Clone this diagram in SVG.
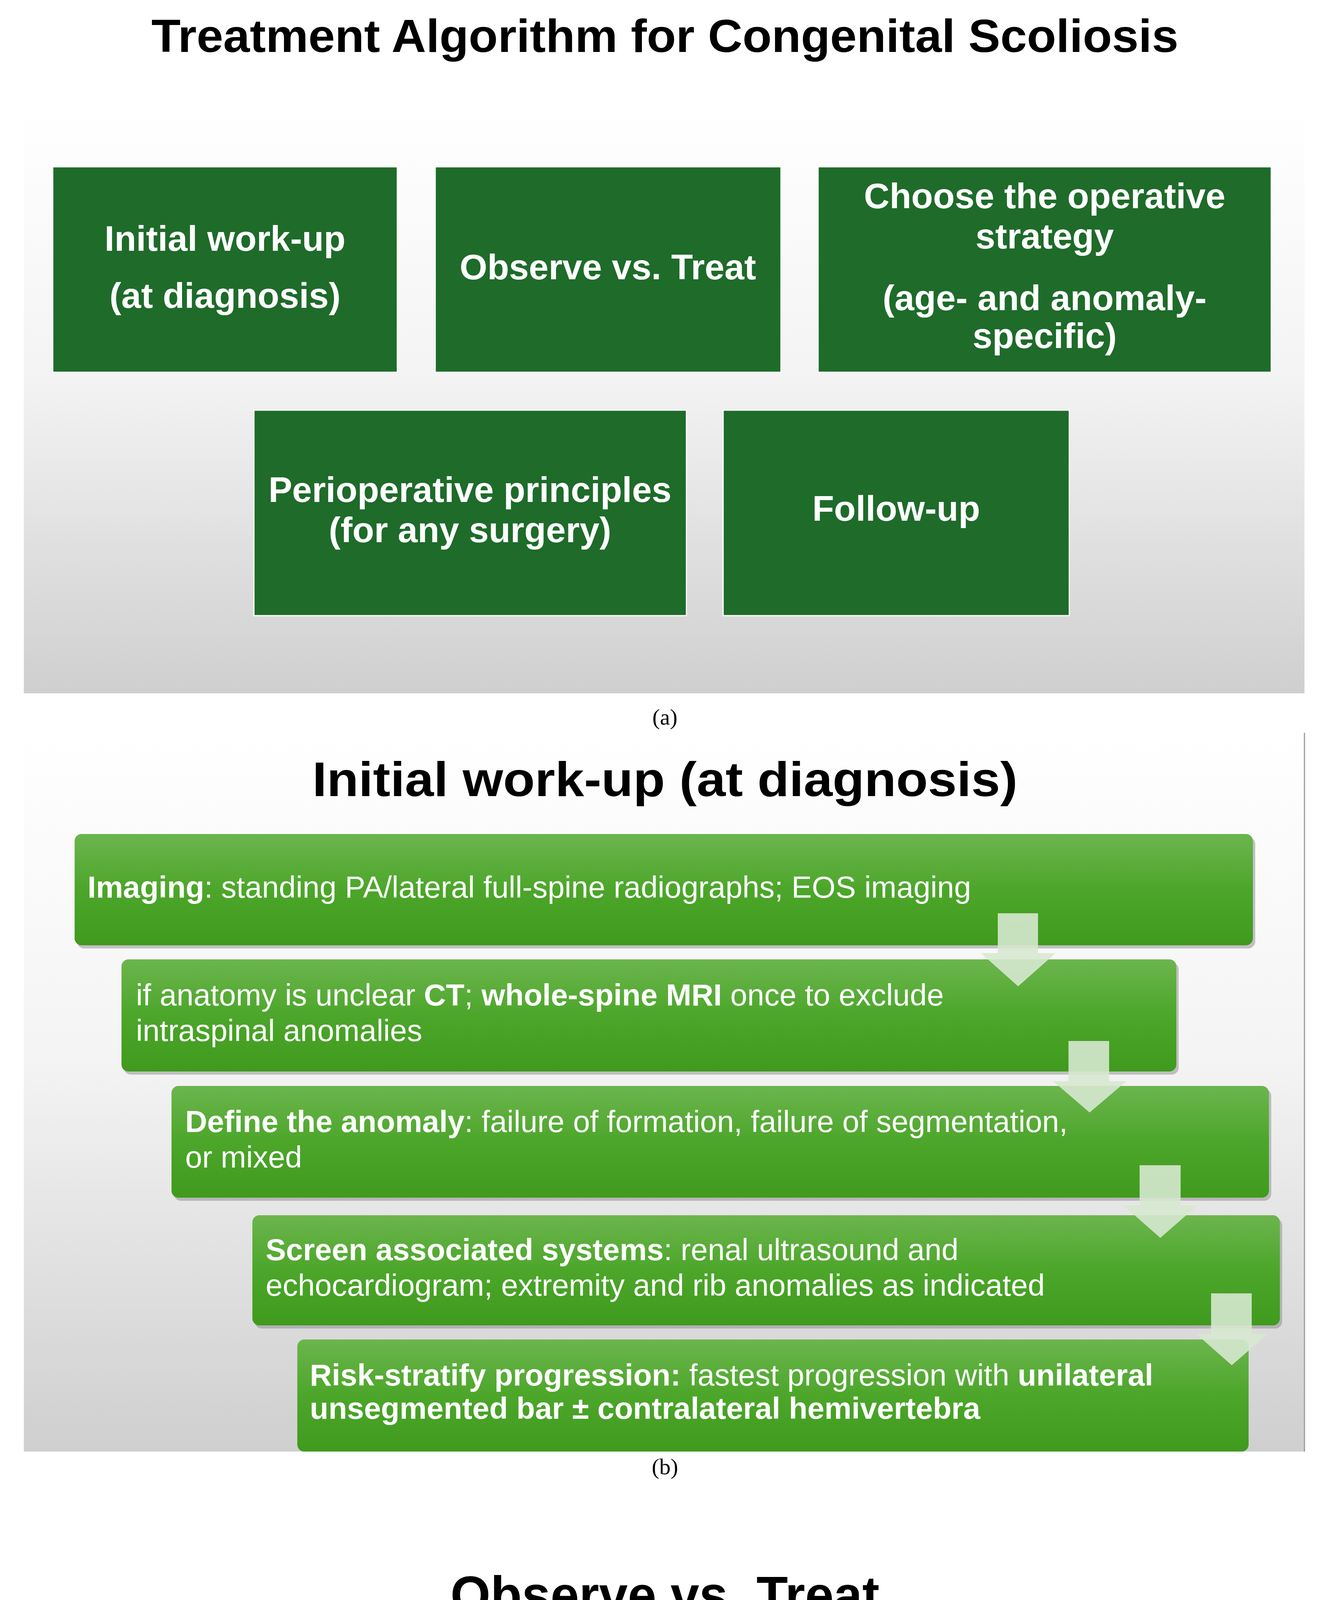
<svg xmlns="http://www.w3.org/2000/svg" width="3389" height="5792" viewBox="0 0 3389 5792">
<defs>
<linearGradient id="pg" x1="0" y1="0" x2="0" y2="1"><stop offset="0" stop-color="#ffffff"/><stop offset="0.45" stop-color="#f4f4f4"/><stop offset="1" stop-color="#cfcfcf"/></linearGradient>
<linearGradient id="bg" x1="0" y1="0" x2="0" y2="1"><stop offset="0" stop-color="#6cb54e"/><stop offset="0.5" stop-color="#4ca62a"/><stop offset="1" stop-color="#3f9a1e"/></linearGradient>
<marker id="ah" viewBox="0 0 12 12" refX="11" refY="6" markerWidth="14" markerHeight="14" markerUnits="userSpaceOnUse" orient="auto"><path d="M1,1 L11,6 L1,11" fill="none" stroke="#3f7d45" stroke-width="1.5"/></marker>
<style>
.box{fill:#1e6b2a;stroke:#ffffff;stroke-width:3}
.ta{font-family:"Liberation Sans",Arial,sans-serif;font-weight:bold;font-size:91px;fill:#fff;text-anchor:middle}
.title{font-family:"Liberation Sans",Arial,sans-serif;font-weight:bold;fill:#000;text-anchor:middle}
.bar{fill:url(#bg)}
.shd{fill:#8a8a8a;opacity:0.5}
.tb{font-family:"Liberation Sans",Arial,sans-serif;font-size:78px;fill:#fff}
.tb .b{font-weight:bold}
.arr{fill:#d6e8cf;opacity:0.9}
.tc{font-family:"Liberation Sans",Arial,sans-serif;font-size:59px;fill:#fff;text-anchor:middle}
.con{fill:none;stroke:#3f7d45;stroke-width:3}
.cap{font-family:"Liberation Serif","Times New Roman",serif;font-size:58px;fill:#000;text-anchor:middle}
</style>
</defs>
<rect width="3389" height="5792" fill="#fff"/>
<!-- Section a -->
<text class="title" x="1702" y="133" font-size="118" textLength="2629" lengthAdjust="spacingAndGlyphs">Treatment Algorithm for  Congenital Scoliosis</text>
<rect x="61" y="275" width="3278" height="1500" fill="url(#pg)"/>
<g id="a1"><rect class="box" x="135" y="427" width="882" height="526"/><text class="ta" x="576" y="642">Initial work-up</text><text class="ta" x="576" y="788">(at diagnosis)</text></g>
<g id="a2"><rect class="box" x="1114" y="427" width="885" height="526"/><text class="ta" x="1556" y="715">Observe vs. Treat</text></g>
<g id="a3"><rect class="box" x="2094" y="427" width="1160" height="526"/><text class="ta" x="2674" y="533">Choose the operative</text><text class="ta" x="2674" y="636">strategy</text><text class="ta" x="2674" y="794">(age- and anomaly-</text><text class="ta" x="2674" y="891">specific)</text></g>
<g id="a4"><rect class="box" x="650" y="1050" width="1107" height="526"/><text class="ta" x="1203" y="1285">Perioperative principles</text><text class="ta" x="1203" y="1388">(for any surgery)</text></g>
<g id="a5"><rect class="box" x="1851" y="1050" width="886" height="526"/><text class="ta" x="2294" y="1333">Follow-up</text></g>
<text class="cap" x="1702" y="1855">(a)</text>
<!-- Section b -->
<rect x="61" y="1876" width="3278" height="1840" fill="url(#pg)"/>
<line x1="3339" y1="1876" x2="3339" y2="3716" stroke="#999" stroke-width="3"/>
<text class="title" x="1702" y="2038" font-size="125" textLength="1805" lengthAdjust="spacingAndGlyphs">Initial work-up (at diagnosis)</text>
<g id="b1"><rect class="shd" x="197" y="2143" width="3016" height="285" rx="18"/><rect class="bar" x="191" y="2135" width="3016" height="285" rx="18"/><text class="tb" x="224" y="2298"><tspan class="b">Imaging</tspan>: standing PA/lateral full-spine radiographs; EOS imaging</text></g>
<g id="b2"><rect class="shd" x="317" y="2464" width="2700" height="287" rx="18"/><rect class="bar" x="311" y="2456" width="2700" height="287" rx="18"/><text class="tb" x="348" y="2574">if anatomy is unclear <tspan class="b">CT</tspan>; <tspan class="b">whole-spine MRI</tspan> once to exclude</text><text class="tb" x="348" y="2665">intraspinal anomalies</text></g>
<g id="b3"><rect class="shd" x="445" y="2788" width="2809" height="286" rx="18"/><rect class="bar" x="439" y="2780" width="2809" height="286" rx="18"/><text class="tb" x="474" y="2898"><tspan class="b">Define the anomaly</tspan>: failure of formation, failure of segmentation,</text><text class="tb" x="474" y="2989">or mixed</text></g>
<g id="b4"><rect class="shd" x="652" y="3119" width="2630" height="282" rx="18"/><rect class="bar" x="646" y="3111" width="2630" height="282" rx="18"/><text class="tb" x="680" y="3226"><tspan class="b">Screen associated systems</tspan>: renal ultrasound and</text><text class="tb" x="680" y="3317">echocardiogram; extremity and rib anomalies as indicated</text></g>
<g id="b5"><rect class="bar" x="761" y="3429" width="2435" height="287" rx="18"/><text class="tb" x="793" y="3547"><tspan class="b">Risk-stratify progression:</tspan> fastest progression with <tspan class="b">unilateral</tspan></text><text class="tb" x="793" y="3632"><tspan class="b">unsegmented bar ± contralateral hemivertebra</tspan></text></g>
<g id="b-arrows">
<polygon class="arr" points="2554,2338 2657,2338 2657,2440 2702,2440 2606,2525 2511,2440 2554,2440"/>
<polygon class="arr" points="2735,2665 2839,2665 2839,2768 2883,2768 2789,2848 2696,2768 2735,2768"/>
<polygon class="arr" points="2917,2983 3022,2983 3022,3086 3065,3086 2970,3169 2876,3086 2917,3086"/>
<polygon class="arr" points="3100,3311 3204,3311 3204,3414 3246,3414 3153,3495 3061,3414 3100,3414"/>
</g>
<text class="cap" x="1702" y="3774">(b)</text>
<!-- Section c -->
<text class="title" x="1702" y="4130" font-size="135" textLength="1098" lengthAdjust="spacingAndGlyphs">Observe vs. Treat</text>
<rect x="61" y="4161" width="3278" height="1509" fill="url(#pg)"/>
<g id="c1"><rect class="box" x="115" y="4436" width="676" height="403"/><text class="tc" x="452" y="4585">Observe (clinical +</text><text class="tc" x="452" y="4654">radiographic follow-up</text><text class="tc" x="452" y="4722">every 6 months)</text></g>
<g id="c2"><rect class="box" x="957" y="4436" width="678" height="403"/><text class="tc" x="1296" y="4518">Mild curves (&lt;25–30°),</text><text class="tc" x="1296" y="4585">non-progressive</text><text class="tc" x="1296" y="4654">pattern, balanced</text><text class="tc" x="1296" y="4722">trunk, no thoracic</text><text class="tc" x="1296" y="4791">insufficiency risk</text></g>
<g id="c3"><rect class="box" x="1798" y="4376" width="674" height="524"/><text class="tc" x="2135" y="4482">Bracing/casting has</text><text class="tc" x="2135" y="4548">limited effect on the</text><text class="tc" x="2135" y="4618">congenital structural</text><text class="tc" x="2135" y="4688">curve; may help</text><text class="tc" x="2135" y="4757">compensatory/flexible</text><text class="tc" x="2135" y="4824">secondary curves.</text></g>
<g id="c4"><rect class="box" x="2637" y="4436" width="676" height="403"/><text class="tc" x="2975" y="4619">Initiate treatment if any</text><text class="tc" x="2975" y="4688">of the following</text></g>
<g id="c5"><rect class="box" x="115" y="5061" width="676" height="406"/><text class="tc" x="452" y="5145">Documented</text><text class="tc" x="452" y="5213">progression (e.g., &gt;10°</text><text class="tc" x="452" y="5282">within 6-12 months) or</text><text class="tc" x="452" y="5351">expected progression</text><text class="tc" x="452" y="5419">by anomaly type</text></g>
<g id="c6"><rect class="box" x="957" y="5061" width="678" height="406"/><text class="tc" x="1296" y="5179">Curve magnitude &gt;25–</text><text class="tc" x="1296" y="5245">30° in a young child</text><text class="tc" x="1296" y="5315">with a progressive</text><text class="tc" x="1296" y="5385">pattern</text></g>
<g id="c7"><rect class="box" x="1798" y="5061" width="904" height="406"/><text class="tc" x="2250" y="5179">Presence/progression of</text><text class="tc" x="2250" y="5245">segmental kyphosis,</text><text class="tc" x="2250" y="5315">decompensation, or risk of</text><text class="tc" x="2250" y="5385">thoracic insufficiency</text></g>
<g id="connectors">
<line class="con" x1="798" y1="4636" x2="948" y2="4636" marker-end="url(#ah)"/>
<line class="con" x1="1642" y1="4636" x2="1789" y2="4636" marker-end="url(#ah)"/>
<line class="con" x1="2479" y1="4636" x2="2628" y2="4636" marker-end="url(#ah)"/>
<polyline class="con" points="2975,4846 2975,4951 452,4951 452,5052" marker-end="url(#ah)"/>
<line class="con" x1="798" y1="5266" x2="948" y2="5266" marker-end="url(#ah)"/>
<line class="con" x1="1642" y1="5266" x2="1789" y2="5266" marker-end="url(#ah)"/>
</g>
<text class="cap" x="1702" y="5748">(c)</text>
</svg>
